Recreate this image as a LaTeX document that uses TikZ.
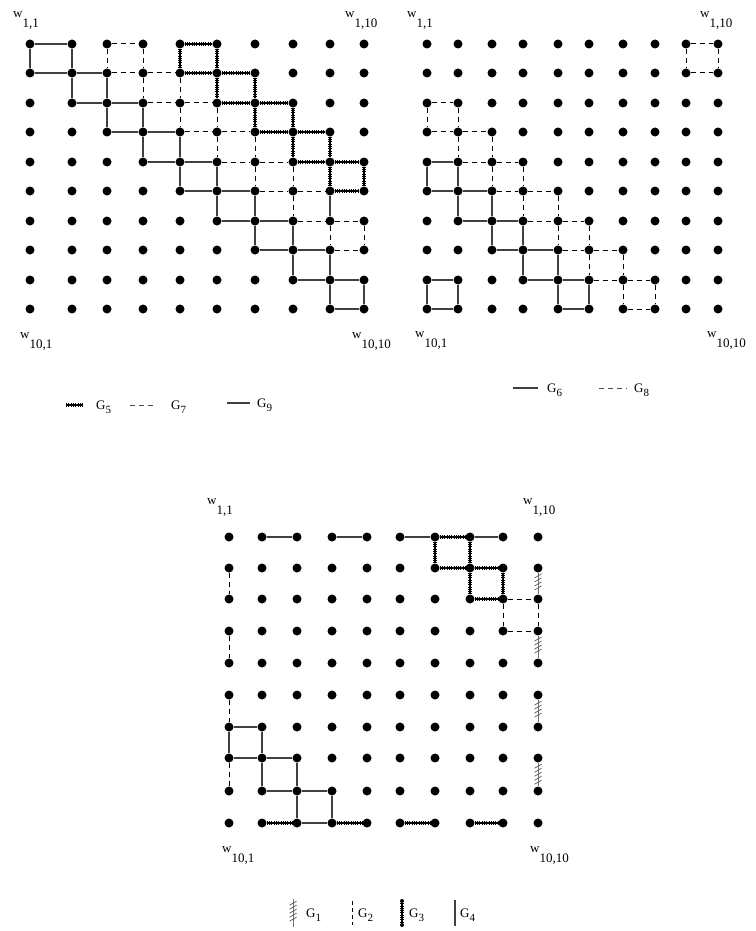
\documentclass[tikz,border=0pt]{standalone}
\usepackage{fontspec}
\setmainfont{Liberation Serif}
\usetikzlibrary{decorations.markings}
\tikzset{
 dotn/.style={circle, fill=black, inner sep=0pt, minimum size=9pt},
 smalldot/.style={circle, fill=black, inner sep=0pt, minimum size=4pt},
 solidE/.style={draw=black!75, line width=1.2pt},
 dashE/.style={draw=black, line width=1pt, dash pattern=on 5pt off 4pt},
 beadE/.style={draw=black, line width=1.6pt, postaction={draw=black, line width=4.6pt, dash pattern=on 1pt off 1.3pt}},
 hatchE/.style={draw=black!55, line width=1pt, postaction={decorate, decoration={markings, mark=between positions 0.15 and 0.85 step 4pt with {\draw[black!65, line width=0.7pt] (-2pt,3.5pt) -- (2pt,-3.5pt);}}}},
 lab/.style={anchor=base west, inner sep=0pt, font=\fontsize{13}{15}\selectfont},
 glab/.style={anchor=base west, inner sep=0pt, font=\fontsize{13}{15}\selectfont},
}
\newcommand\wlab[1]{w\raisebox{-10pt}{#1}}
\newcommand\glabel[1]{G\raisebox{-4pt}{\fontsize{11}{12}\selectfont #1}}
\newcommand\sqbox[4]{%
 \pgfmathtruncatemacro\sqR{#2+1}\pgfmathtruncatemacro\sqC{#3+1}%
 \draw[#4] (#1-#2-#3) -- (#1-#2-\sqC);
 \draw[#4] (#1-\sqR-#3) -- (#1-\sqR-\sqC);
 \draw[#4] (#1-#2-#3) -- (#1-\sqR-#3);
 \draw[#4] (#1-#2-\sqC) -- (#1-\sqR-\sqC);
}
\begin{document}
\begin{tikzpicture}[x=1pt,y=-1pt]
\fill[white] (0,0) rectangle (755,931);
\useasboundingbox (0,0) rectangle (755,931);

% ---------- dots ----------
\foreach \x [count=\c] in {30,72,107,143,180,217,255,293,330,364} {
  \foreach \y [count=\r] in {44,73,103,132,162,191,221,250,280,309} {
    \node[dotn] (L-\r-\c) at (\x,\y) {};
  }
}
\foreach \x [count=\c] in {427,458,492,523,558,589,623,655,686,718} {
  \foreach \y [count=\r] in {44,73,103,132,162,191,221,250,280,309} {
    \node[dotn] (R-\r-\c) at (\x,\y) {};
  }
}
\foreach \x [count=\c] in {229,262,297,332,367,400,435,470,503,538} {
  \foreach \y [count=\r] in {537,568,599,631,663,695,727,758,791,823} {
    \node[dotn] (B-\r-\c) at (\x,\y) {};
  }
}

% ---------- top-left: G5, G7, G9 ----------
\foreach \k in {1,...,9} { \sqbox{L}{\k}{\k}{solidE} }
\foreach \k in {1,...,5,7} {
  \pgfmathtruncatemacro\kc{\k+2}
  \sqbox{L}{\k}{\kc}{dashE}
}
\draw[dashE] (L-6-8) -- (L-6-9);
\draw[dashE] (L-7-8) -- (L-7-9);
\draw[dashE] (L-6-8) -- (L-7-8);
\draw[solidE] (L-6-9) -- (L-7-9);
\foreach \k in {1,...,5} {
  \pgfmathtruncatemacro\kc{\k+4}
  \sqbox{L}{\k}{\kc}{beadE}
}

% ---------- top-right: G6, G8 ----------
\sqbox{R}{1}{9}{dashE}
\foreach \k in {1,...,7} {
  \pgfmathtruncatemacro\kr{\k+2}
  \sqbox{R}{\kr}{\k}{dashE}
}
\foreach \k in {1,...,5} {
  \pgfmathtruncatemacro\kr{\k+4}
  \sqbox{R}{\kr}{\k}{solidE}
}
\sqbox{R}{9}{1}{solidE}

% ---------- bottom: G1..G4 ----------
\foreach \a/\b in {1-2/1-3, 1-4/1-5, 1-6/1-7, 1-8/1-9, 7-1/7-2, 7-1/8-1, 7-2/8-2,
  8-1/8-2, 8-2/8-3, 8-2/9-2, 8-3/9-3, 9-2/9-3, 9-3/9-4, 9-3/10-3, 9-4/10-4, 10-3/10-4}
  \draw[solidE] (B-\a) -- (B-\b);
\foreach \a/\b in {2-1/3-1, 4-1/5-1, 6-1/7-1, 8-1/9-1, 3-9/3-10, 3-9/4-9, 3-10/4-10, 4-9/4-10}
  \draw[dashE] (B-\a) -- (B-\b);
\foreach \a/\b in {1-7/1-8, 1-7/2-7, 1-8/2-8, 2-7/2-8, 2-8/2-9, 2-8/3-8, 2-9/3-9, 3-8/3-9,
  10-2/10-3, 10-4/10-5, 10-6/10-7, 10-8/10-9}
  \draw[beadE] (B-\a) -- (B-\b);
\foreach \a/\b in {2-10/3-10, 4-10/5-10, 6-10/7-10, 8-10/9-10}
  \draw[hatchE] (B-\a) -- (B-\b);

% ---------- corner labels ----------
\node[lab] (tl11) at (13,18) {\wlab{1,1}};
\node[lab] (tl110) at (345,18) {\wlab{1,10}};
\node[lab] (tl101) at (20,338) {\wlab{10,1}};
\node[lab] (tl1010) at (352,338) {\wlab{10,10}};
\node[lab] (tr11) at (407,18) {\wlab{1,1}};
\node[lab] (tr110) at (700,18) {\wlab{1,10}};
\node[lab] (tr101) at (415,337) {\wlab{10,1}};
\node[lab] (tr1010) at (707,337) {\wlab{10,10}};
\node[lab] (b11) at (207,504) {\wlab{1,1}};
\node[lab] (b110) at (523,504) {\wlab{1,10}};
\node[lab] (b101) at (222,852) {\wlab{10,1}};
\node[lab] (b1010) at (530,852) {\wlab{10,10}};

% ---------- legends ----------
\coordinate (g5a) at (66,405); \coordinate (g5b) at (83,405);
\draw[beadE] (g5a) -- (g5b);
\node[glab] (g5t) at (96,409) {\glabel{5}};
\coordinate (g7a) at (130,405); \coordinate (g7b) at (154,405);
\draw[dashE, draw=black!70] (g7a) -- (g7b);
\node[glab] (g7t) at (171,409) {\glabel{7}};
\coordinate (g9a) at (227,403); \coordinate (g9b) at (250,403);
\draw[solidE] (g9a) -- (g9b);
\node[glab] (g9t) at (257,407) {\glabel{9}};

\coordinate (g6a) at (513,388); \coordinate (g6b) at (538,388);
\draw[solidE] (g6a) -- (g6b);
\node[glab] (g6t) at (547,392) {\glabel{6}};
\coordinate (g8a) at (599,388); \coordinate (g8b) at (627,388);
\draw[dashE, draw=black!70] (g8a) -- (g8b);
\node[glab] (g8t) at (634,392) {\glabel{8}};

\coordinate (g1a) at (293,899); \coordinate (g1b) at (293,927);
\draw[hatchE] (g1a) -- (g1b);
\node[glab] (g1t) at (306,917) {\glabel{1}};
\coordinate (g2a) at (352,901); \coordinate (g2b) at (352,925);
\draw[dashE, dash pattern=on 4pt off 3pt] (g2a) -- (g2b);
\node[glab] (g2t) at (358,917) {\glabel{2}};
\node[smalldot] (g3a) at (402,901) {};
\node[smalldot] (g3b) at (402,925) {};
\draw[beadE] (g3a) -- (g3b);
\node[glab] (g3t) at (409,917) {\glabel{3}};
\coordinate (g4a) at (455,900); \coordinate (g4b) at (455,926);
\draw[solidE] (g4a) -- (g4b);
\node[glab] (g4t) at (460,917) {\glabel{4}};
\end{tikzpicture}
\end{document}
